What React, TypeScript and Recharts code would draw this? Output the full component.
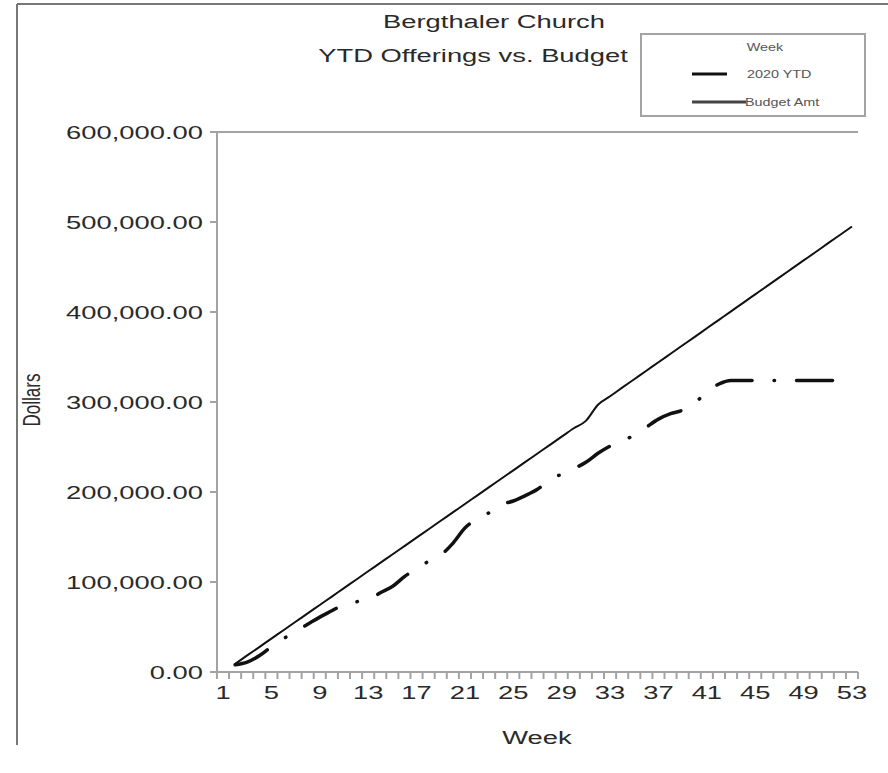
import React from 'react';
import { LineChart, Line, XAxis, YAxis, CartesianGrid, Legend } from 'recharts';

// week numbers on the category axis
const weeks = [
  1, 2, 3, 4, 5, 6, 7, 8, 9, 10, 11, 12, 13, 14, 15, 16, 17, 18, 19, 20, 21, 22, 23, 24, 25, 26, 27,
  28, 29, 30, 31, 32, 33, 34, 35, 36, 37, 38, 39, 40, 41, 42, 43, 44, 45, 46, 47, 48, 49, 50, 51, 52, 53,
];

// 2020 YTD offerings (week 1 has no value)
const ytd2020 = [
  null, 8000, 11000, 18000, 28000, 37000, 45000, 53000, 61000, 68000, 75000, 78000, 80000, 88000,
  95000, 106000, 115000, 123000, 130000, 143000, 160000, 170000, 177000, 186000, 190000, 196000,
  203000, 213000, 220000, 226000, 233000, 243000, 251000, 257000, 263000, 272000, 281000, 287000,
  291000, 299000, 311000, 320000, 324000, 324000, 324000, 324000, 324000, 324000, 324000, 324000,
  324000, 324000, 324000,
];

// YTD budget amount
const budgetAmt = [
  null, 9000, 18400, 27700, 37100, 46400, 55800, 65100, 74500, 83800, 93200, 102500, 111900, 121200,
  130600, 139900, 149300, 158600, 168000, 177300, 186700, 196000, 205400, 214700, 224100, 233400,
  242800, 252100, 261500, 270800, 279000, 297000, 306400, 315900, 325300, 334700, 344200, 353600,
  363000, 372400, 381900, 391300, 400700, 410200, 419600, 429000, 438500, 447900, 457300, 466700,
  476200, 485600, 495000,
];

const dollarTicks = [0, 100000, 200000, 300000, 400000, 500000, 600000];

const data = weeks.map((week, i) => ({ week, ytd: ytd2020[i], budget: budgetAmt[i] }));

const FONT = '"Liberation Sans", Arial, sans-serif';
const SX = 1.44; // the original picture is stretched sideways
const STEP = 12.1; // width of one week on the axis
const AXIS_GRAY = '#a3a3a3';
const TEXT = '#2a2a2a';

const fmt = (v: number) =>
  v.toLocaleString('en-US', { minimumFractionDigits: 2, maximumFractionDigits: 2 });

function DollarTick(props: any) {
  const { x, y, payload } = props;
  return (
    <text
      transform={`translate(${x},${y}) scale(${SX},1)`}
      textAnchor="end"
      dy="0.36em"
      fontSize={19}
      fontFamily={FONT}
      fill={TEXT}
    >
      {fmt(payload.value)}
    </text>
  );
}

function WeekTick(props: any) {
  const { x, y, payload, index } = props;
  const last = index === weeks.length - 1;
  return (
    <g>
      <line x1={x - STEP / 2} x2={x - STEP / 2} y1={y} y2={y + 7} stroke={AXIS_GRAY} strokeWidth={2} />
      {last && (
        <line x1={x + STEP / 2} x2={x + STEP / 2} y1={y} y2={y + 7} stroke={AXIS_GRAY} strokeWidth={2} />
      )}
      {index % 4 === 0 && (
        <text
          transform={`translate(${x},${y + 27}) scale(${SX},1)`}
          textAnchor="middle"
          fontSize={19}
          fontFamily={FONT}
          fill={TEXT}
        >
          {payload.value}
        </text>
      )}
    </g>
  );
}

function LegendBox() {
  const t = (x: number, y: number, s: string, anchor: 'start' | 'middle' = 'start') => (
    <text
      transform={`translate(${x},${y}) scale(${SX},1)`}
      textAnchor={anchor}
      dy="0.35em"
      fontSize={10}
      fontFamily={FONT}
      fill="#555"
    >
      {s}
    </text>
  );
  return (
    <div style={{ width: 222, height: 80, border: `2px solid ${AXIS_GRAY}`, background: '#fff' }}>
      <svg width={222} height={80}>
        {t(123, 12, 'Week', 'middle')}
        <line x1={50} x2={85} y1={39} y2={39} stroke="#111" strokeWidth={3} />
        {t(105, 39, '2020 YTD')}
        <line x1={50} x2={104} y1={67} y2={67} stroke="#444" strokeWidth={3} />
        {t(103, 67, 'Budget Amt')}
      </svg>
    </div>
  );
}

export default function App() {
  return (
    <div style={{ position: 'absolute', left: 0, top: 0, width: 888, height: 773, background: '#fff' }}>
      <LineChart
        width={888}
        height={773}
        data={data}
        margin={{ top: 132, right: 30, bottom: 41, left: 0 }}
      >
        <CartesianGrid vertical={false} stroke={AXIS_GRAY} strokeWidth={2} />
        <XAxis
          dataKey="week"
          interval={0}
          padding={{ left: 6, right: 6 }}
          height={60}
          tickLine={false}
          tickSize={0}
          tickMargin={0}
          tick={<WeekTick />}
          axisLine={{ stroke: AXIS_GRAY, strokeWidth: 2 }}
        />
        <YAxis
          yAxisId="left"
          width={217}
          domain={[0, 600000]}
          ticks={dollarTicks}
          tickSize={7}
          tickMargin={7}
          tickLine={{ stroke: AXIS_GRAY, strokeWidth: 2 }}
          axisLine={{ stroke: AXIS_GRAY, strokeWidth: 2 }}
          tick={<DollarTick />}
        />
        <YAxis
          yAxisId="right"
          orientation="right"
          width={0}
          domain={[0, 600000]}
          tick={false}
          tickLine={false}
          axisLine={{ stroke: AXIS_GRAY, strokeWidth: 2 }}
        />
        <Legend
          layout="vertical"
          align="center"
          verticalAlign="middle"
          content={() => <LegendBox />}
          wrapperStyle={{ left: 640, top: 33, width: 226, height: 84 }}
        />
        <Line
          yAxisId="left"
          type="monotone"
          dataKey="budget"
          name="Budget Amt"
          stroke="#111"
          strokeWidth={2}
          dot={false}
          activeDot={false}
          isAnimationActive={false}
        />
        <Line
          yAxisId="left"
          type="monotone"
          dataKey="ytd"
          name="2020 YTD"
          stroke="#111"
          strokeWidth={3.5}
          strokeLinecap="round"
          strokeDasharray="36 22 0.5 22"
          dot={false}
          activeDot={false}
          isAnimationActive={false}
        />
      </LineChart>
      <svg
        width={888}
        height={773}
        style={{ position: 'absolute', left: 0, top: 0, pointerEvents: 'none' }}
      >
        <line x1={17} x2={888} y1={4} y2={4} stroke="#777" strokeWidth={2} />
        <line x1={17} x2={17} y1={4} y2={745} stroke="#777" strokeWidth={2} />
        <g fontFamily={FONT} fontSize={19} fill={TEXT}>
          <text transform={`translate(494,28) scale(${SX},1)`} textAnchor="middle">
            Bergthaler Church
          </text>
          <text transform={`translate(473,61.5) scale(${SX},1)`} textAnchor="middle">
            YTD Offerings vs. Budget
          </text>
          <text transform={`translate(537,744) scale(${SX},1)`} textAnchor="middle">
            Week
          </text>
          <text transform={`translate(40,400) scale(${SX},1) rotate(-90)`} textAnchor="middle" fontSize={17}>
            Dollars
          </text>
        </g>
      </svg>
    </div>
  );
}
